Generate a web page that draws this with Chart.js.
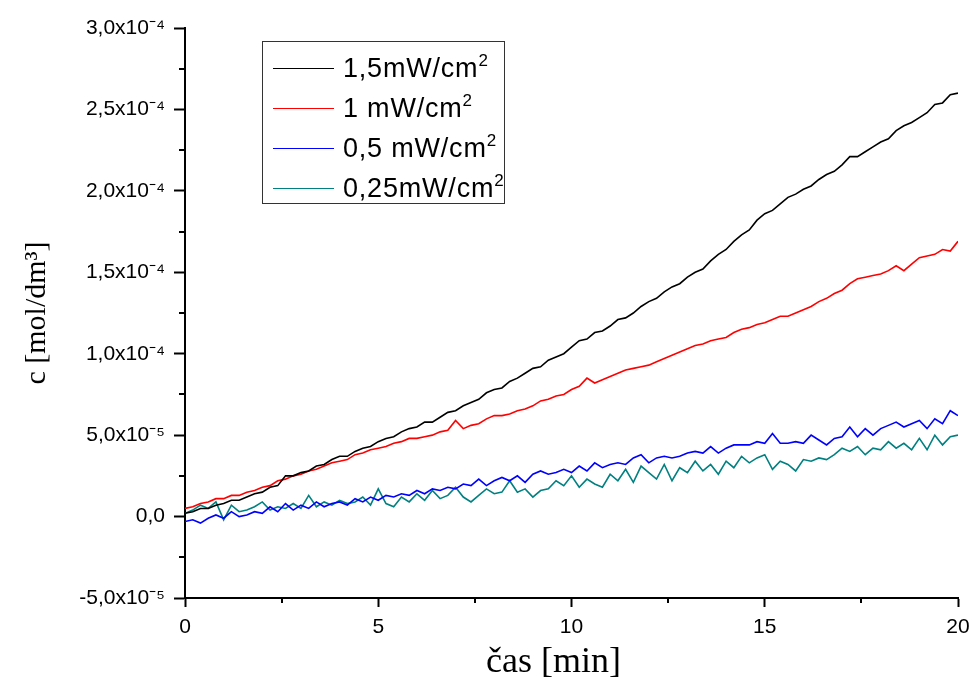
<!DOCTYPE html>
<html>
<head>
<meta charset="utf-8">
<script src="https://cdn.jsdelivr.net/npm/chart.js@4.4.1/dist/chart.umd.min.js"></script>
<style>
    body { margin: 0; background: #fff; }
    #wrap { position: relative; width: 973px; height: 684px; }
    #legend {
        position: absolute; left: 262px; top: 41px; width: 241px; height: 161px;
        border: 1px solid #333; background: #fff;
        font-family: 'Liberation Sans', Arial, sans-serif; font-size: 27px; letter-spacing: 0.8px; color: #000;
    }
    .row { position: absolute; left: 0; height: 40px; display: flex; align-items: center; }
    .row .line { width: 61px; height: 0; border-top: 1.5px solid; margin-left: 10px; margin-right: 9px; }
    .row sup { font-size: 17px; vertical-align: 0; position: relative; top: -11px; letter-spacing: 0; }
</style>
</head>
<body>
<div id="wrap">
    <canvas id="chart" width="973" height="684"></canvas>
    <div id="legend"></div>
</div>
<script>
// time in minutes
const time = [
    0, 0.2, 0.4, 0.6, 0.8, 1, 1.2, 1.4, 1.6, 1.8,
    2, 2.2, 2.4, 2.6, 2.8, 3, 3.2, 3.4, 3.6, 3.8,
    4, 4.2, 4.4, 4.6, 4.8, 5, 5.2, 5.4, 5.6, 5.8,
    6, 6.2, 6.4, 6.6, 6.8, 7, 7.2, 7.4, 7.6, 7.8,
    8, 8.2, 8.4, 8.6, 8.8, 9, 9.2, 9.4, 9.6, 9.8,
    10, 10.2, 10.4, 10.6, 10.8, 11, 11.2, 11.4, 11.6, 11.8,
    12, 12.2, 12.4, 12.6, 12.8, 13, 13.2, 13.4, 13.6, 13.8,
    14, 14.2, 14.4, 14.6, 14.8, 15, 15.2, 15.4, 15.6, 15.8,
    16, 16.2, 16.4, 16.6, 16.8, 17, 17.2, 17.4, 17.6, 17.8,
    18, 18.2, 18.4, 18.6, 18.8, 19, 19.2, 19.4, 19.6, 19.8,
    20
];

// concentrations in units of 1e-5 mol/dm3
const c150 = [
    0.2, 0.3, 0.5, 0.5, 0.7, 0.8, 1.0, 1.0, 1.2, 1.4,
    1.5, 1.8, 1.9, 2.5, 2.5, 2.7, 2.8, 3.1, 3.2, 3.5,
    3.7, 3.7, 4.0, 4.2, 4.3, 4.6, 4.8, 4.9, 5.2, 5.4,
    5.5, 5.8, 5.8, 6.1, 6.4, 6.5, 6.8, 7.0, 7.2, 7.6,
    7.8, 7.9, 8.3, 8.5, 8.8, 9.1, 9.2, 9.6, 9.8, 10.0,
    10.4, 10.8, 10.9, 11.3, 11.4, 11.7, 12.1, 12.2, 12.5, 12.9,
    13.2, 13.4, 13.8, 14.1, 14.3, 14.7, 15.0, 15.2, 15.7, 16.1,
    16.4, 16.9, 17.3, 17.6, 18.2, 18.6, 18.8, 19.2, 19.6, 19.8,
    20.1, 20.3, 20.7, 21.0, 21.2, 21.6, 22.1, 22.1, 22.4, 22.7,
    23.0, 23.2, 23.7, 24.0, 24.2, 24.5, 24.8, 25.3, 25.4, 25.9,
    26.0
];
const c100 = [
    0.5, 0.6, 0.8, 0.9, 1.1, 1.1, 1.3, 1.3, 1.5, 1.6,
    1.8, 1.9, 2.2, 2.3, 2.5, 2.6, 2.8, 2.9, 3.1, 3.3,
    3.4, 3.5, 3.8, 3.9, 4.1, 4.2, 4.3, 4.5, 4.6, 4.8,
    4.8, 4.9, 5.0, 5.2, 5.3, 5.9, 5.4, 5.6, 5.7, 6.0,
    6.2, 6.2, 6.3, 6.5, 6.6, 6.8, 7.1, 7.2, 7.4, 7.5,
    7.8, 8.0, 8.5, 8.2, 8.4, 8.6, 8.8, 9.0, 9.1, 9.2,
    9.3, 9.5, 9.7, 9.9, 10.1, 10.3, 10.5, 10.6, 10.8, 10.9,
    11.0, 11.3, 11.5, 11.6, 11.8, 11.9, 12.1, 12.3, 12.3, 12.5,
    12.7, 12.9, 13.2, 13.4, 13.7, 13.9, 14.3, 14.6, 14.7, 14.8,
    14.9, 15.1, 15.4, 15.1, 15.5, 15.9, 16.0, 16.1, 16.4, 16.3,
    16.9
];
const c050 = [
    -0.3, -0.2, -0.4, -0.1, 0.1, -0.1, 0.3, 0.0, 0.1, 0.3,
    0.2, 0.6, 0.3, 0.8, 0.4, 0.7, 0.5, 0.9, 0.6, 0.8,
    0.9, 0.7, 1.1, 0.9, 1.2, 1.0, 1.3, 1.2, 1.4, 1.3,
    1.6, 1.4, 1.7, 1.6, 1.8, 1.7, 2.0, 1.9, 2.3, 1.9,
    2.2, 2.4, 2.2, 2.5, 2.1, 2.6, 2.8, 2.6, 2.7, 2.9,
    2.7, 3.1, 2.8, 3.3, 3.0, 3.2, 3.3, 3.2, 3.6, 3.8,
    3.3, 3.6, 3.7, 3.6, 3.7, 3.9, 4.0, 3.9, 4.3, 3.9,
    4.2, 4.4, 4.4, 4.4, 4.6, 4.5, 5.1, 4.5, 4.5, 4.6,
    4.5, 5.0, 4.7, 4.4, 4.8, 4.9, 5.5, 4.9, 5.4, 5.0,
    5.4, 5.6, 5.8, 5.5, 5.7, 5.9, 5.4, 6.0, 5.7, 6.5,
    6.2
];
const c025 = [
    0.2, 0.4, 0.7, 0.5, 0.9, -0.2, 0.7, 0.3, 0.4, 0.6,
    0.9, 0.4, 0.6, 0.5, 0.8, 0.5, 1.3, 0.6, 0.9, 0.7,
    1.0, 0.8, 0.9, 1.2, 0.7, 1.7, 0.8, 0.6, 1.2, 0.9,
    1.4, 1.0, 1.6, 1.1, 1.3, 1.8, 1.2, 0.9, 1.3, 1.7,
    1.4, 1.5, 2.2, 1.5, 1.7, 1.2, 1.6, 1.7, 2.2, 1.9,
    2.5, 1.8, 2.3, 2.0, 1.8, 2.6, 2.2, 2.9, 2.1, 3.1,
    2.7, 2.3, 3.2, 2.2, 3.0, 2.7, 3.4, 2.8, 3.2, 2.6,
    3.4, 3.0, 3.7, 3.3, 3.6, 3.8, 2.9, 3.4, 3.2, 2.8,
    3.5, 3.4, 3.6, 3.5, 3.8, 4.2, 4.0, 4.3, 3.8, 4.2,
    4.1, 4.6, 4.2, 4.5, 4.1, 4.8, 4.1, 5.0, 4.4, 4.9,
    5.0
];

const seriesNames = ['1,5mW/cm', '1 mW/cm', '0,5 mW/cm', '0,25mW/cm'];
const seriesColors = ['#000000', '#ff0000', '#0000ff', '#008080'];
const seriesData = [c150, c100, c050, c025];

const yTickValues = [-5, 0, 5, 10, 15, 20, 25, 30];
const yTickLabels = ['-5,0x10\u207B\u2075', '0,0', '5,0x10\u207B\u2075', '1,0x10\u207B\u2074',
    '1,5x10\u207B\u2074', '2,0x10\u207B\u2074', '2,5x10\u207B\u2074', '3,0x10\u207B\u2074'];
const xMinorTicks = [2.5, 7.5, 12.5, 17.5];
const yMinorTicks = [-2.5, 2.5, 7.5, 12.5, 17.5, 22.5, 27.5];

// short ticks between the labelled ones
const minorTicks = {
    id: 'minorTicks',
    afterDraw(chart) {
        const ctx = chart.ctx;
        const xs = chart.scales.x, ys = chart.scales.y;
        const area = chart.chartArea;
        ctx.save();
        ctx.strokeStyle = '#000';
        ctx.lineWidth = 2;
        ctx.beginPath();
        xMinorTicks.forEach(v => {
            const px = Math.round(xs.getPixelForValue(v));
            ctx.moveTo(px, area.bottom);
            ctx.lineTo(px, area.bottom + 5);
        });
        yMinorTicks.forEach(v => {
            const py = Math.round(ys.getPixelForValue(v));
            ctx.moveTo(area.left - 6, py);
            ctx.lineTo(area.left, py);
        });
        ctx.stroke();
        ctx.restore();
    }
};

const tickFont = { family: "'Liberation Sans', Arial, sans-serif", size: 21 };
const serif = "'Liberation Serif', 'Times New Roman', serif";

new Chart(document.getElementById('chart'), {
    type: 'line',
    data: {
        datasets: seriesData.map((s, i) => ({
            label: seriesNames[i],
            data: time.map((t, j) => ({ x: t, y: s[j] })),
            borderColor: seriesColors[i],
            borderWidth: 1.6,
            pointRadius: 0,
            tension: 0,
            fill: false
        }))
    },
    options: {
        responsive: false,
        animation: false,
        layout: { padding: { top: 28, right: 15, left: 0, bottom: 0 } },
        plugins: { legend: { display: false }, tooltip: { enabled: false } },
        scales: {
            x: {
                type: 'linear',
                min: 0, max: 20,
                afterFit: s => { s.height = 86; s.paddingLeft = 0; s.paddingRight = 0; },
                ticks: { stepSize: 5, font: tickFont, color: '#000', padding: 8, maxRotation: 0 },
                grid: { drawOnChartArea: false, drawTicks: true, tickLength: 9, tickWidth: 2, tickColor: '#000' },
                border: { display: true, color: '#000', width: 2 },
                title: { display: true, text: 'čas [min]\u2002\u2002', font: { family: serif, size: 36 }, color: '#000', padding: { top: 0, bottom: 0 } }
            },
            y: {
                type: 'linear',
                min: -5, max: 30,
                afterFit: s => { s.width = 185; s.paddingTop = 0; s.paddingBottom = 0; },
                ticks: {
                    stepSize: 5, font: tickFont, color: '#000', padding: 9,
                    callback: v => yTickLabels[yTickValues.indexOf(v)]
                },
                grid: { drawOnChartArea: false, drawTicks: true, tickLength: 11, tickWidth: 2, tickColor: '#000' },
                border: { display: true, color: '#000', width: 2 },
                title: { display: true, text: 'c [mol/dm³]', font: { family: serif, size: 30 }, color: '#000', padding: { top: 19, bottom: 0 } }
            }
        }
    },
    plugins: [minorTicks]
});

// legend box
const legend = document.getElementById('legend');
legend.innerHTML = seriesNames.map((name, i) =>
    `<div class="row" style="top:${6 + i * 40}px">
        <div class="line" style="border-color:${seriesColors[i]}"></div>
        <span>${name}<sup>2</sup></span>
    </div>`
).join('');
</script>
</body>
</html>
